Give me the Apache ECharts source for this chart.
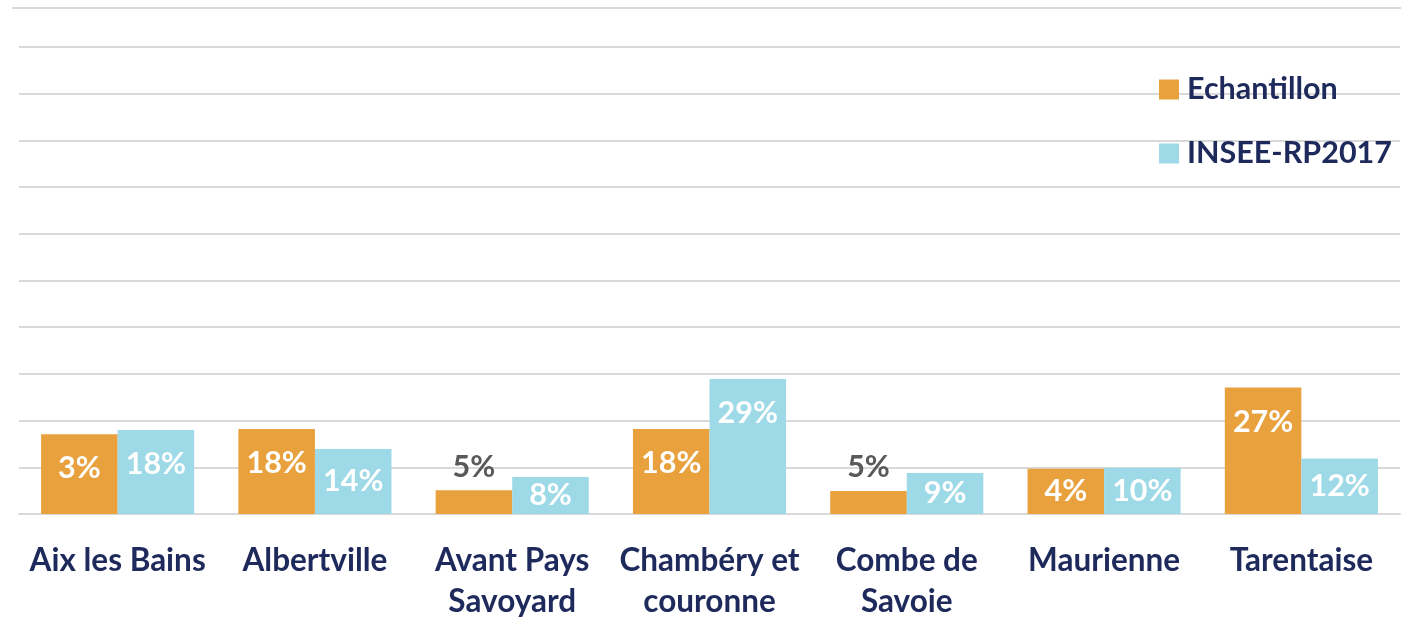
<!DOCTYPE html>
<html>
<head>
<meta charset="utf-8">
<script src="https://cdn.jsdelivr.net/npm/echarts@6/dist/echarts.min.js"></script>
<style>
html,body{margin:0;padding:0;background:#fff;}
#chart{width:1401px;height:631px;}
</style>
</head>
<body>
<div id="chart"></div>
<script>
const categories = ["Aix les Bains", "Albertville", "Avant Pays\nSavoyard", "Chambéry et\ncouronne", "Combe de\nSavoie", "Maurienne", "Tarentaise"];
const seriesNames = ["Echantillon", "INSEE-RP2017"];
// bar heights as drawn (percent)
const echantillonValues = [17.1, 18.2, 5.1, 18.2, 4.9, 9.7, 27.1];
const inseeValues = [18.0, 13.9, 7.9, 28.9, 8.8, 9.9, 11.9];
// data labels as printed on the chart
const echantillonLabels = ["3%", "18%", "5%", "18%", "5%", "4%", "27%"];
const inseeLabels = ["18%", "14%", "8%", "29%", "9%", "10%", "12%"];
const yTicks = [0, 10, 20, 30, 40, 50, 60, 70, 80, 90, 100];

const FONT = 'Lato, "Open Sans", sans-serif';
const NAVY = '#1f2a5c';
const colors = ['#e8a13c', '#9dd9e6'];

function buildData(values, labels) {
  return values.map((v, i) => {
    let label;
    if (v < 6) {
      label = { position: 'top', distance: 8, color: '#595959' };
    } else if (v < 15) {
      label = { position: 'inside' };
    } else {
      label = { position: 'insideTop', distance: 19 };
    }
    label.formatter = labels[i];
    return { value: v, label: label };
  });
}

const chart = echarts.init(document.getElementById('chart'), null, { renderer: 'canvas' });
chart.setOption({
  animation: false,
  backgroundColor: '#ffffff',
  color: colors,
  textStyle: { fontFamily: FONT },
  grid: { left: 19, right: 1, top: 47, bottom: 117, containLabel: false },
  legend: {
    orient: 'vertical',
    left: 1154,
    top: 69,
    itemWidth: 20,
    itemHeight: 20,
    itemGap: 33,
    icon: 'rect',
    data: seriesNames,
    textStyle: { fontFamily: FONT, fontSize: 30.5, fontWeight: 'bold', color: NAVY, padding: [0, 0, 0, 3] }
  },
  graphic: [{
    type: 'line',
    shape: { x1: 12, y1: 8, x2: 1401, y2: 8 },
    style: { stroke: '#d9d9d9', lineWidth: 2 },
    silent: true
  }],
  xAxis: {
    type: 'category',
    data: categories,
    axisTick: { show: false },
    axisLine: { show: true, lineStyle: { color: '#d9d9d9', width: 2 } },
    axisLabel: {
      interval: 0,
      margin: 26,
      fontFamily: FONT,
      fontSize: 31.5,
      fontWeight: 'bold',
      color: NAVY,
      lineHeight: 41
    }
  },
  yAxis: {
    type: 'value',
    min: yTicks[0],
    max: yTicks[yTicks.length - 1],
    interval: yTicks[1] - yTicks[0],
    axisLabel: { show: false },
    axisLine: { show: false },
    axisTick: { show: false },
    splitLine: { show: true, lineStyle: { color: '#d9d9d9', width: 2 } }
  },
  series: [
    {
      name: seriesNames[0],
      type: 'bar',
      barGap: '0%',
      barCategoryGap: '22.4%',
      data: buildData(echantillonValues, echantillonLabels),
      label: { show: true, fontFamily: FONT, fontSize: 30.5, fontWeight: 'bold', color: '#ffffff' }
    },
    {
      name: seriesNames[1],
      type: 'bar',
      barGap: '0%',
      barCategoryGap: '22.4%',
      data: buildData(inseeValues, inseeLabels),
      label: { show: true, fontFamily: FONT, fontSize: 30.5, fontWeight: 'bold', color: '#ffffff' }
    }
  ]
});
</script>
</body>
</html>
